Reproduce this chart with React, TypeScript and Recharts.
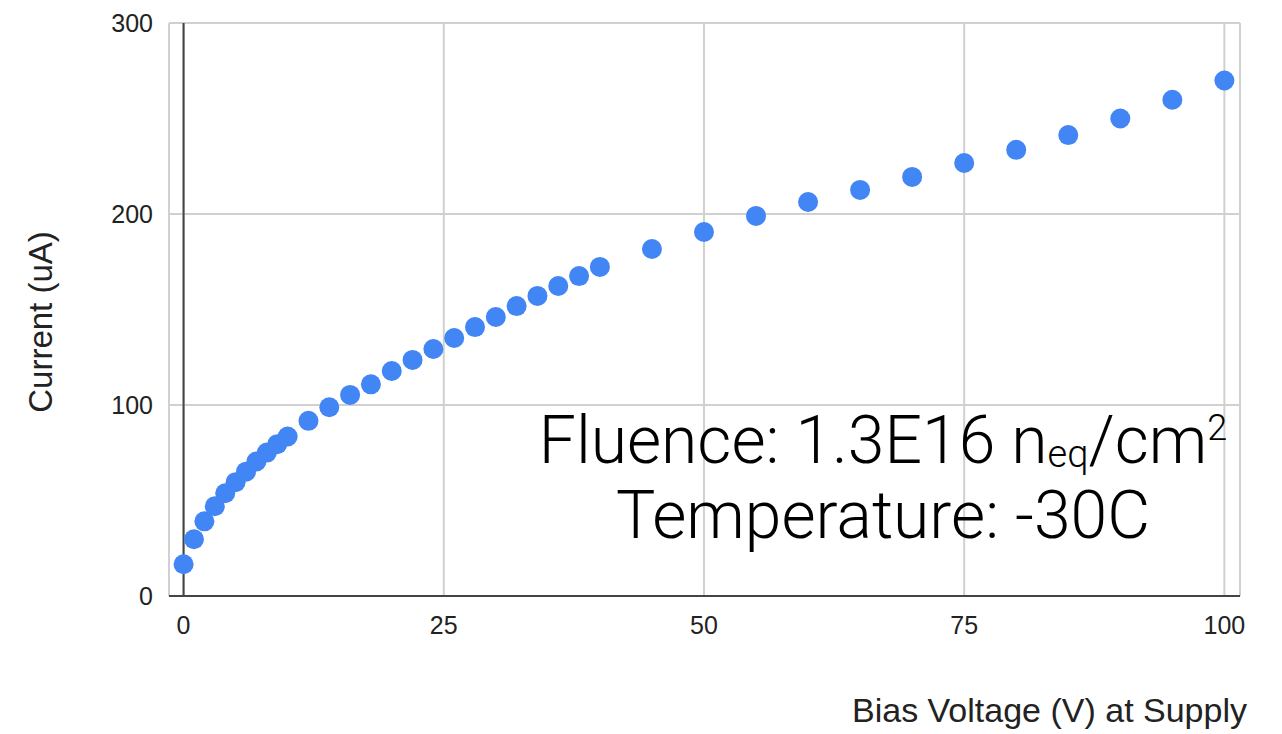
import { ScatterChart, Scatter, XAxis, YAxis, CartesianGrid, ReferenceLine } from 'recharts';

const voltages = [0, 1, 2, 3, 4, 5, 6, 7, 8, 9, 10, 12, 14, 16, 18, 20, 22, 24, 26, 28, 30, 32, 34, 36, 38, 40, 45, 50, 55, 60, 65, 70, 75, 80, 85, 90, 95, 100];
const currents = [16.6, 29.7, 39.1, 47, 53.8, 59.6, 65.1, 70.4, 75.1, 79.5, 83.5, 91.7, 98.8, 105.3, 110.8, 117.8, 123.6, 129.3, 135.1, 140.8, 146.1, 151.8, 157.1, 162.3, 167.5, 172.3, 181.7, 190.6, 199, 206.3, 212.6, 219.4, 226.7, 233.6, 241.3, 250, 259.8, 269.9];
const xTicks = [0, 25, 50, 75, 100];
const yTicks = [0, 100, 200, 300];

const data = voltages.map((v, i) => ({ v, i: currents[i] }));

const W = 1282;
const H = 734;
const font = '"Liberation Sans", Arial, sans-serif';
const noteFont = 'Roboto, sans-serif';

export default function App() {
  return (
    <div style={{ position: 'absolute', left: 0, top: 0, width: W, height: H, background: '#fff' }}>
      <ScatterChart width={W} height={H} margin={{ top: 23, right: 42, bottom: 78, left: 0 }}>
        <CartesianGrid stroke="#d0d0d0" strokeWidth={2} />
        <XAxis type="number" dataKey="v" domain={[-1.4, 101.5]} ticks={xTicks} allowDataOverflow
          height={60} tickSize={0} tickMargin={20} tickLine={false}
          axisLine={{ stroke: '#444', strokeWidth: 2 }}
          tick={{ fontSize: 25, fill: '#222', fontFamily: font }} />
        <YAxis type="number" dataKey="i" domain={[0, 300]} ticks={yTicks} allowDataOverflow
          width={169} tickSize={0} tickMargin={16} tickLine={false} axisLine={false}
          tick={{ fontSize: 25, fill: '#222', fontFamily: font }} />
        <ReferenceLine x={0} stroke="#444" strokeWidth={2} />
        <Scatter data={data} isAnimationActive={false}
          shape={(p: any) => <circle cx={p.cx} cy={p.cy} r={10} fill="#4285f4" />} />
      </ScatterChart>
      <svg width={W} height={H} style={{ position: 'absolute', left: 0, top: 0, pointerEvents: 'none' }}>
        <text x={1247} y={722} textAnchor="end" fontSize={34} fontFamily={font} fill="#222">
          Bias Voltage (V) at Supply
        </text>
        <text x={52} y={322} textAnchor="middle" fontSize={33} fontFamily={font} fill="#222"
          transform="rotate(-90 52 322)">
          Current (uA)
        </text>
        <text x={883} y={463} textAnchor="middle" fontSize={66} fontFamily={noteFont} fontWeight={300} fill="#000">
          Fluence: 1.3E16 n
          <tspan fontSize={38} dy={4}>eq</tspan>
          <tspan dy={-4}>/cm</tspan>
          <tspan fontSize={36} dy={-23}>2</tspan>
        </text>
        <text x={883} y={538} textAnchor="middle" fontSize={66} fontFamily={noteFont} fontWeight={300} fill="#000">
          Temperature: -30C
        </text>
      </svg>
    </div>
  );
}
